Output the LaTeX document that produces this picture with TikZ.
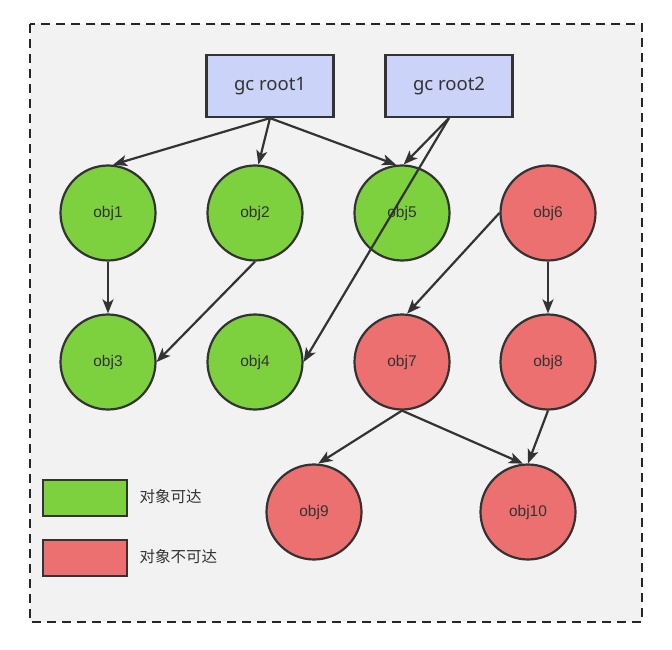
\documentclass[tikz,border=0pt]{standalone}
\usepackage{fontspec}
\setmainfont{Liberation Sans}
\newfontfamily\cjk{Noto Sans CJK SC}
\newfontfamily\rootfont{Noto Sans}
\usetikzlibrary{arrows.meta}
\definecolor{bgc}{HTML}{F2F2F2}
\definecolor{rootc}{HTML}{CCD3F8}
\definecolor{greenc}{HTML}{7DD13F}
\definecolor{redc}{HTML}{EC7070}
\definecolor{linec}{HTML}{333333}
\tikzset{
  rootbox/.style={draw=linec, line width=2.2pt, fill=rootc, minimum width=127pt, minimum height=62pt, font=\rootfont\fontsize{18.5}{20}\selectfont, text=linec},
  objg/.style={circle, draw=linec, line width=2.2pt, fill=greenc, minimum size=95pt, inner sep=0pt, font=\fontsize{15.5}{17}\selectfont, text=linec},
  objr/.style={objg, fill=redc},
  legbox/.style={draw=linec, line width=2.2pt, minimum width=84pt, minimum height=36pt},
  legtext/.style={anchor=west, font=\cjk\fontsize{15.5}{17}\selectfont, text=linec},
  arr/.style={draw=linec, line width=2.2pt, -{Stealth[length=14pt,width=11pt,inset=3.5pt]}}
}
\begin{document}
\begin{tikzpicture}[x=1pt,y=-1pt]
\useasboundingbox (0,0) rectangle (672,650);
\draw[fill=bgc, draw=black!85, line width=2pt, dash pattern=on 9pt off 6pt] (30,24) rectangle (642,622);
\node[rootbox] (r1) at (270,86) {gc root1};
\node[rootbox] (r2) at (449,86) {gc root2};
\node[objg] (o1) at (108,213) {obj1};
\node[objg] (o2) at (255,213) {obj2};
\node[objg] (o5) at (402,213) {obj5};
\node[objr] (o6) at (548,213) {obj6};
\node[objg] (o3) at (108,362) {obj3};
\node[objg] (o4) at (255,362) {obj4};
\node[objr] (o7) at (402,362) {obj7};
\node[objr] (o8) at (548,362) {obj8};
\node[objr] (o9) at (314,512) {obj9};
\node[objr] (o10) at (528,512) {obj10};
\node[legbox, fill=greenc] (lg) at (85,498) {};
\node[legbox, fill=redc] (lr) at (85,558) {};
\node[legtext] (tg) at (136,497) {对象可达};
\node[legtext] (tr) at (136,557) {对象不可达};
\draw[arr] (r1.south) -- (o1.84);
\draw[arr] (r1.south) -- (o2.86);
\draw[arr] (r1.south) -- (o5.97);
\draw[arr] (r2.south) -- (o5.88);
\draw[arr] (r2.south) -- (o4.east);
\draw[arr] (o1.south) -- (o3.north);
\draw[arr] (o2.south) -- (o3.east);
\draw[arr] (o6.west) -- (o7.84);
\draw[arr] (o6.south) -- (o8.north);
\draw[arr] (o7.south) -- (o9.85);
\draw[arr] (o7.south) -- (o10.96);
\draw[arr] (o8.south) -- (o10.north);
\end{tikzpicture}
\end{document}
